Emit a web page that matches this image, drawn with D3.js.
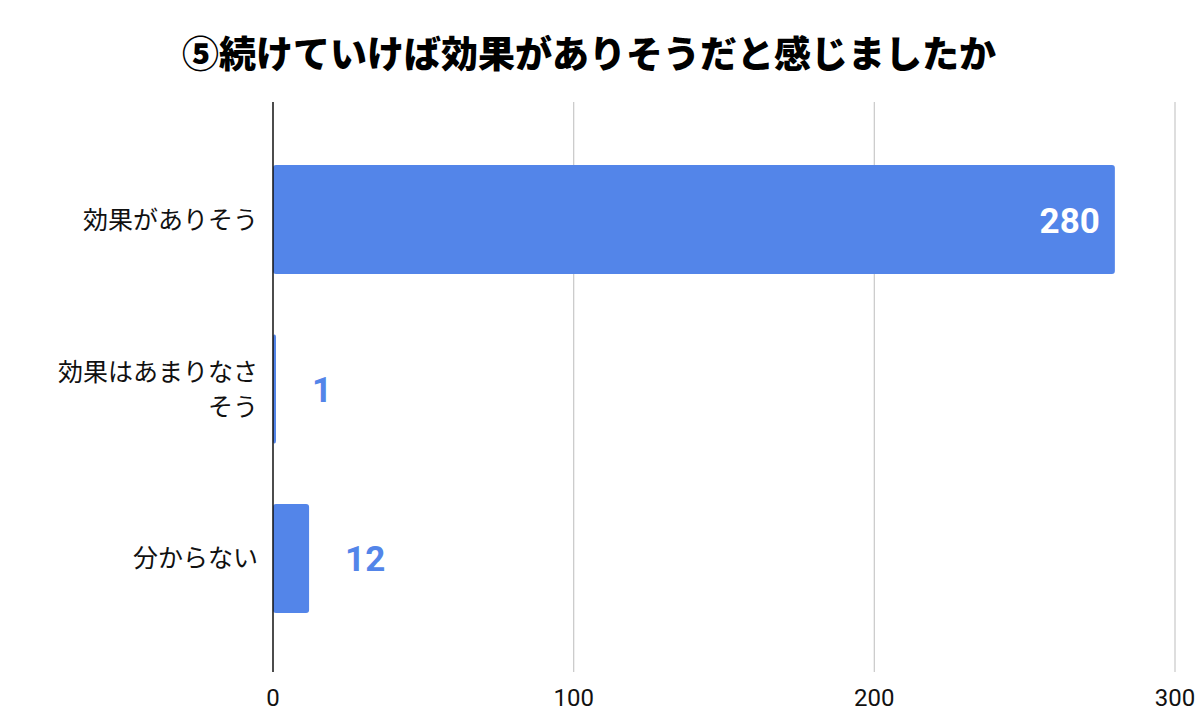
<!DOCTYPE html>
<html>
<head>
<meta charset="utf-8">
<script src="https://cdn.jsdelivr.net/npm/d3@7"></script>
<style>
  html, body { margin: 0; padding: 0; background: #fff; }
  svg { display: block; }
</style>
</head>
<body>
<div id="chart"></div>
<script>
// datos del gráfico
const titulo = "⑤続けていけば効果がありそうだと感じましたか";
const categorias = ["効果がありそう", "効果はあまりなさそう", "分からない"];
const valores = [280, 1, 12];
const ticksX = [0, 100, 200, 300];

const width = 1200;
const height = 724;
const colorBarra = "#5385e9";
const fuente = "Roboto, 'Noto Sans CJK JP', sans-serif";

const svg = d3.select("#chart")
  .append("svg")
  .attr("width", width)
  .attr("height", height)
  .attr("viewBox", `0 0 ${width} ${height}`);

const x = d3.scaleLinear()
  .domain([0, 300])
  .range([273, 1175]);

const y = d3.scaleBand()
  .domain(categorias)
  .range([104, 674])
  .paddingInner(0.357)
  .paddingOuter(0.36);

// título
svg.append("text")
  .attr("x", 589)
  .attr("y", 68)
  .attr("text-anchor", "middle")
  .attr("font-family", "'Noto Sans CJK JP', sans-serif")
  .attr("font-weight", "900")
  .attr("font-size", 37)
  .attr("fill", "#000")
  .text(titulo);

// rejilla
svg.append("g")
  .selectAll("line")
  .data(ticksX.filter(d => d !== 0))
  .join("line")
  .attr("x1", d => x(d))
  .attr("x2", d => x(d))
  .attr("y1", 102)
  .attr("y2", 672)
  .attr("stroke", "#cccccc")
  .attr("stroke-width", 1.3);

// etiquetas del eje x
svg.append("g")
  .selectAll("text")
  .data(ticksX)
  .join("text")
  .attr("x", d => x(d))
  .attr("y", 706)
  .attr("text-anchor", "middle")
  .attr("font-family", fuente)
  .attr("font-size", 24)
  .attr("fill", "#111")
  .text(d => d);

// barras
svg.append("g")
  .selectAll("rect")
  .data(valores)
  .join("rect")
  .attr("x", x(0))
  .attr("y", (d, i) => y(categorias[i]))
  .attr("width", d => x(d) - x(0))
  .attr("height", y.bandwidth())
  .attr("rx", 3)
  .attr("fill", colorBarra);

// eje vertical (cero)
svg.append("line")
  .attr("x1", x(0))
  .attr("x2", x(0))
  .attr("y1", 102)
  .attr("y2", 672)
  .attr("stroke", "#111")
  .attr("stroke-width", 1.5);

// etiquetas de categoría con salto de línea por ancho
const maxAncho = 205;
const lineaAlto = 35;
const gCat = svg.append("g");
categorias.forEach(cat => {
  const t = gCat.append("text")
    .attr("text-anchor", "end")
    .attr("font-family", fuente)
    .attr("font-size", 25)
    .attr("fill", "#111");
  const lineas = [];
  let actual = "";
  for (const ch of cat) {
    t.text(actual + ch);
    if (t.node().getComputedTextLength() > maxAncho && actual) {
      lineas.push(actual);
      actual = ch;
    } else {
      actual += ch;
    }
  }
  lineas.push(actual);
  t.text(null);
  const cy = y(cat) + y.bandwidth() / 2;
  const y0 = cy - (lineas.length - 1) * lineaAlto / 2 + 9;
  lineas.forEach((l, i) => {
    t.append("tspan")
      .attr("x", 258)
      .attr("y", y0 + i * lineaAlto)
      .text(l);
  });
});

// etiquetas de valor
svg.append("g")
  .selectAll("text")
  .data(valores)
  .join("text")
  .attr("font-family", fuente)
  .attr("font-weight", "700")
  .attr("font-size", 35)
  .attr("y", (d, i) => y(categorias[i]) + y.bandwidth() / 2 + 13)
  .text(d => d)
  .each(function (d) {
    const t = d3.select(this);
    const w = this.getComputedTextLength();
    const anchoBarra = x(d) - x(0);
    if (anchoBarra > w + 30) {
      t.attr("x", x(d) - 15).attr("text-anchor", "end").attr("fill", "#fff");
    } else {
      t.attr("x", x(d) + 36).attr("text-anchor", "start").attr("fill", colorBarra);
    }
  });
</script>
</body>
</html>
